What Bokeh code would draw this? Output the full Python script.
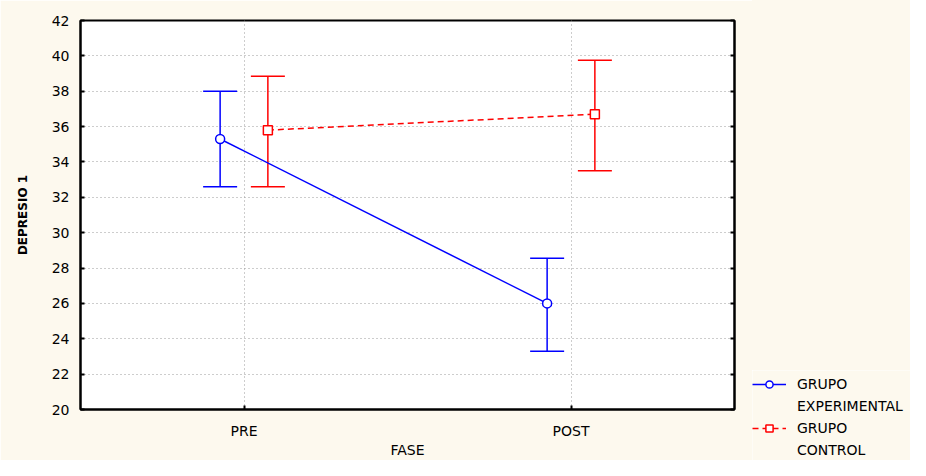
from bokeh.plotting import figure
from bokeh.layouts import row, column
from bokeh.models import (ColumnDataSource, FactorRange, Range1d, FixedTicker, LinearAxis,
                          Whisker, TeeHead, Legend, LegendItem, Spacer)
from bokeh.transform import dodge
from bokeh.embed import file_html
from bokeh.resources import INLINE

# ---- data ----
phases = ["PRE", "POST"]
exp_mean = [35.3, 26.0]
exp_upper = [38.0, 28.55]
exp_lower = [32.6, 23.3]
ctrl_mean = [35.8, 36.7]
ctrl_upper = [38.85, 39.75]
ctrl_lower = [32.6, 33.5]
y_ticks = [20, 22, 24, 26, 28, 30, 32, 34, 36, 38, 40, 42]
legend_lines = [["GRUPO", "EXPERIMENTAL"], ["GRUPO", "CONTROL"]]

BLUE = "#0000ff"
RED = "#ff0000"
CREAM = "#fdf9ee"
FONT = "DejaVu Sans"
OFF = 0.073
EXP_LINE = dict(line_color=BLUE, line_width=1.5)
CTRL_LINE = dict(line_color=RED, line_width=1.5, line_dash="6 4")
EXP_MARK = dict(marker="circle", size=9, fill_color="white", line_color=BLUE, line_width=1.5)
CTRL_MARK = dict(marker="square", size=9, fill_color="white", line_color=RED, line_width=1.5)

src_exp = ColumnDataSource(dict(phase=phases, mean=exp_mean, upper=exp_upper, lower=exp_lower))
src_ctrl = ColumnDataSource(dict(phase=phases, mean=ctrl_mean, upper=ctrl_upper, lower=ctrl_lower))

p = figure(width=752, height=460, output_backend="svg", toolbar_location=None,
           x_range=FactorRange(factors=phases), y_range=Range1d(20, 42),
           min_border_left=80, min_border_top=20, min_border_right=18, min_border_bottom=47)

p.background_fill_color = "white"
p.border_fill_color = CREAM
p.outline_line_color = "black"
p.outline_line_width = 2

# grids
p.ygrid.ticker = FixedTicker(ticks=y_ticks)
for g in (p.xgrid, p.ygrid):
    g.grid_line_color = "#9a9a9a"
    g.grid_line_dash = "1 3"
    g.grid_line_width = 1

# axes
ya = p.yaxis[0]
ya.ticker = FixedTicker(ticks=y_ticks)
ya.axis_label = "DEPRESIO 1"
ya.axis_label_text_font = FONT
ya.axis_label_text_font_size = "12px"
ya.axis_label_text_font_style = "bold"
ya.axis_label_standoff = 19
ya.major_label_text_font = FONT
ya.major_label_text_font_size = "14px"
ya.major_label_standoff = 11
ya.minor_tick_line_color = None

xa = p.xaxis[0]
xa.axis_label = "FASE"
xa.axis_label_text_font = FONT
xa.axis_label_text_font_size = "14px"
xa.axis_label_text_font_style = "normal"
xa.axis_label_standoff = 0
xa.major_label_text_font = FONT
xa.major_label_text_font_size = "14px"
xa.major_label_standoff = 13

ra = LinearAxis(ticker=FixedTicker(ticks=y_ticks), major_label_text_alpha=0,
                major_label_text_font_size="1px", major_label_standoff=0)
p.add_layout(ra, "right")

for ax in (xa, ya, ra):
    ax.axis_line_color = "black"
    ax.axis_line_width = 2
    ax.major_tick_in = 4
    ax.major_tick_out = 0
    ax.major_tick_line_width = 2
    ax.axis_label_text_color = "black"
xa.major_label_text_color = "black"
ya.major_label_text_color = "black"
ra.major_label_text_color = None
ra.minor_tick_line_color = None

# error bars
for src, off, col in ((src_exp, -OFF, BLUE), (src_ctrl, OFF, RED)):
    w = Whisker(source=src, base=dodge("phase", off, range=p.x_range), upper="upper", lower="lower",
                line_color=col, line_width=1.5, level="underlay",
                upper_head=TeeHead(size=34, line_color=col, line_width=1.5),
                lower_head=TeeHead(size=34, line_color=col, line_width=1.5))
    p.add_layout(w)

# lines and markers
p.line(x=dodge("phase", -OFF, range=p.x_range), y="mean", source=src_exp, **EXP_LINE)
p.scatter(x=dodge("phase", -OFF, range=p.x_range), y="mean", source=src_exp, **EXP_MARK)
p.line(x=dodge("phase", OFF, range=p.x_range), y="mean", source=src_ctrl, **CTRL_LINE)
p.scatter(x=dodge("phase", OFF, range=p.x_range), y="mean", source=src_ctrl, **CTRL_MARK)

# ---- legend panel: a small figure below a spacer, to the right of the plot ----
lg = figure(width=158, height=90, output_backend="svg", toolbar_location=None,
            x_range=FactorRange(factors=phases), y_range=Range1d(0, 1),
            x_axis_type=None, y_axis_type=None, min_border=0)
lg.grid.visible = False
lg.outline_line_color = None
lg.background_fill_color = CREAM
lg.border_fill_color = CREAM

# renderers only used for legend swatches (the data lie outside this tiny view)
le_line = lg.line(x="phase", y="mean", source=src_exp, **EXP_LINE)
le_mark = lg.scatter(x="phase", y="mean", source=src_exp, **EXP_MARK)
lc_line = lg.line(x="phase", y="mean", source=src_ctrl, **CTRL_LINE)
lc_mark = lg.scatter(x="phase", y="mean", source=src_ctrl, **CTRL_MARK)
blank = lg.line(x="phase", y="mean", source=src_exp, line_alpha=0)

items = [
    LegendItem(label=legend_lines[0][0], renderers=[le_line, le_mark]),
    LegendItem(label=legend_lines[0][1], renderers=[blank]),
    LegendItem(label=legend_lines[1][0], renderers=[lc_line, lc_mark]),
    LegendItem(label=legend_lines[1][1], renderers=[blank]),
]
legend = Legend(items=items, location=(0, 1), glyph_width=34, glyph_height=18, label_standoff=11,
                spacing=4, padding=0, margin=0, background_fill_alpha=0, border_line_alpha=0,
                label_text_font=FONT, label_text_font_size="14px", label_text_color="black")
lg.add_layout(legend)

top_fill = Spacer(width=158, height=370, styles={"background-color": CREAM})
layout = row(p, column(top_fill, lg, spacing=0), spacing=0)
open("out.html", "w").write(file_html(layout, INLINE))
